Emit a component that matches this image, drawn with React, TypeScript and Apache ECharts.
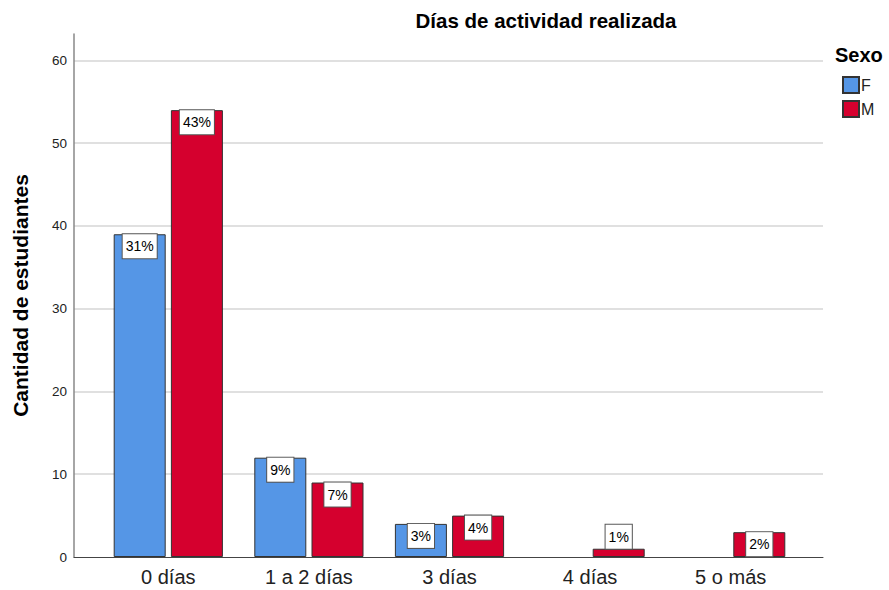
import React, { useEffect, useRef } from "react";
import * as echarts from "echarts";

const categories = ["0 días", "1 a 2 días", "3 días", "4 días", "5 o más"];
const seriesNames = ["F", "M"];
const countsF = [39, 12, 4, 0, 0];
const countsM = [54, 9, 5, 1, 3];
const pctF = [31, 9, 3, 0, 0];
const pctM = [43, 7, 4, 1, 2];
const yTicks = [0, 10, 20, 30, 40, 50, 60];

const FONT = "'Liberation Sans', Arial, sans-serif";
const COLORS = ["#5596E6", "#D5002E"];

export default function App() {
  const ref = useRef<HTMLDivElement>(null);
  useEffect(() => {
    document.body.style.margin = "0";
    if (!ref.current) return;
    const chart = echarts.init(ref.current, null, { renderer: "svg" });

    const makeData = (counts: number[], pcts: number[]) =>
      counts.map((v, i) => {
        if (v === 0) {
          return { value: v, itemStyle: { borderWidth: 0 }, label: { show: false } };
        }
        return {
          value: v,
          label: { position: v < 3 ? "top" : "insideTop", formatter: pcts[i] + "%" },
        };
      });

    const labelStyle = {
      show: true,
      distance: 0,
      fontFamily: FONT,
      fontSize: 14,
      color: "#000",
      lineHeight: 16,
      backgroundColor: "#fff",
      borderColor: "#555",
      borderWidth: 1,
      padding: [4, 3, 4, 3],
    };

    chart.setOption({
      animation: false,
      textStyle: { fontFamily: FONT },
      graphic: [
        {
          type: "text",
          x: 546,
          y: 20,
          style: {
            text: "Días de actividad realizada",
            font: `bold 20.5px ${FONT}`,
            fill: "#000",
            align: "center",
            verticalAlign: "middle",
          },
        },
        {
          type: "text",
          x: 835,
          y: 55,
          style: {
            text: "Sexo",
            font: `bold 20px ${FONT}`,
            fill: "#000",
            align: "left",
            verticalAlign: "middle",
          },
        },
      ],
      legend: {
        data: seriesNames,
        orient: "vertical",
        left: 842,
        top: 76,
        itemWidth: 16,
        itemHeight: 16,
        itemGap: 6,
        padding: 0,
        icon: "rect",
        textStyle: { fontFamily: FONT, fontSize: 16, color: "#222", padding: [0, 0, 0, -3] },
      },
      grid: [
        { left: 74, top: 34, width: 749, height: 523 },
        { left: 98, top: 34, width: 703, height: 523 },
      ],
      xAxis: [
        {
          type: "category",
          gridIndex: 0,
          data: categories,
          axisLine: { show: true, lineStyle: { color: "#444", width: 1 } },
          axisTick: { show: false },
          axisLabel: { show: false },
          splitLine: { show: false },
        },
        {
          type: "category",
          gridIndex: 1,
          data: categories,
          axisLine: { show: false },
          axisTick: { show: false },
          axisLabel: { fontFamily: FONT, fontSize: 20, color: "#222", margin: 10 },
          splitLine: { show: false },
        },
      ],
      yAxis: [
        {
          type: "value",
          gridIndex: 0,
          min: 0,
          max: 63.2,
          interval: 10,
          name: "Cantidad de estudiantes",
          nameLocation: "middle",
          nameRotate: 90,
          nameGap: 43,
          nameTextStyle: { fontFamily: FONT, fontSize: 21, fontWeight: "bold", color: "#000" },
          axisLine: { show: true, lineStyle: { color: "#888", width: 1.5 } },
          axisTick: { show: false },
          axisLabel: {
            fontFamily: FONT,
            fontSize: 13.5,
            color: "#222",
            margin: 7,
            showMaxLabel: false,
            formatter: (v: number) => (yTicks.includes(v) ? String(v) : ""),
          },
          splitLine: {
            show: true,
            showMinLine: false,
            showMaxLine: false,
            lineStyle: { color: "#d6d6d6", width: 1.5 },
          },
        },
        {
          type: "value",
          gridIndex: 1,
          min: 0,
          max: 63.2,
          interval: 10,
          show: false,
          splitLine: { show: false },
        },
      ],
      series: [
        {
          name: seriesNames[0],
          type: "bar",
          xAxisIndex: 1,
          yAxisIndex: 1,
          barWidth: 52,
          barGap: "10%",
          itemStyle: { color: COLORS[0], borderColor: "#333", borderWidth: 1 },
          label: labelStyle,
          data: makeData(countsF, pctF),
        },
        {
          name: seriesNames[1],
          type: "bar",
          xAxisIndex: 1,
          yAxisIndex: 1,
          barWidth: 52,
          barGap: "10%",
          itemStyle: { color: COLORS[1], borderColor: "#333", borderWidth: 1 },
          label: labelStyle,
          data: makeData(countsM, pctM),
        },
      ],
    });
    return () => chart.dispose();
  }, []);
  return <div ref={ref} style={{ width: 889, height: 590 }} />;
}
